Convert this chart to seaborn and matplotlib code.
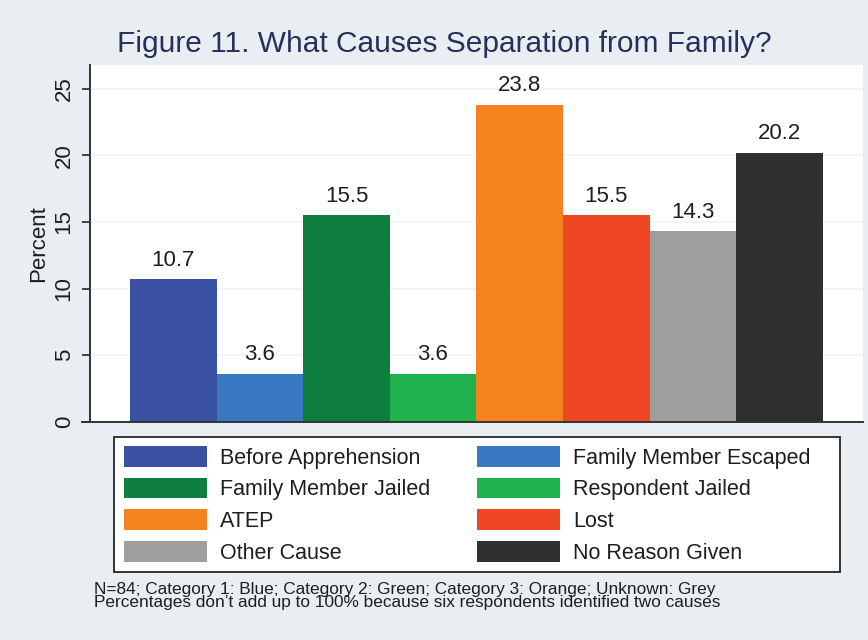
"""
Figure 11 - what causes separation from family, as a seaborn bar chart.
"""

import matplotlib
matplotlib.use("Agg")
import matplotlib.pyplot as plt
import matplotlib.patches as mpatches
import seaborn as sns

# ── Data ──────────────────────────────────────────────────────────────────────
causes = [
    "Before Apprehension",
    "Family Member Escaped",
    "Family Member Jailed",
    "Respondent Jailed",
    "ATEP",
    "Lost",
    "Other Cause",
    "No Reason Given",
]
percent = [10.7, 3.6, 15.5, 3.6, 23.8, 15.5, 14.3, 20.2]
bar_colors = [
    "#3a50a2", "#3b78c2", "#0e7f3f", "#20b24c",
    "#f5821f", "#ef4623", "#a09e9e", "#2f2f2f",
]
y_ticks = [0, 5, 10, 15, 20, 25]

title = "Figure 11. What Causes Separation from Family?"
note_lines = [
    "N=84; Category 1: Blue; Category 2: Green; Category 3: Orange; Unknown: Grey",
    "Percentages don\u2019t add up to 100% because six respondents identified two causes",
]

BG = "#e8eef2"
INK = "#1e1e1e"

sns.set_theme(style="white")
plt.rcParams["font.family"] = ["Liberation Sans", "DejaVu Sans"]

fig = plt.figure(figsize=(8.68, 6.4), dpi=100, facecolor=BG)
ax = fig.add_axes([90 / 868, 1 - 421.7 / 640, (862.5 - 90) / 868, (421.7 - 65) / 640])
ax.set_facecolor("white")

# ── Bars ──────────────────────────────────────────────────────────────────────
sns.barplot(
    x=causes, y=percent, hue=causes, palette=bar_colors, order=causes,
    hue_order=causes, width=1.0, saturation=1, legend=False, ax=ax,
    linewidth=0, zorder=2,
)
for cont in ax.containers:
    ax.bar_label(cont, fmt="%.1f", padding=6, fontsize=16, color=INK)

ax.set_xlim(-0.962, 7.96)
ax.set_ylim(0, 26.78)
ax.set_xticks([])
ax.set_xlabel("")
ax.set_yticks(y_ticks)
ax.set_yticklabels([str(t) for t in y_ticks], rotation=90, va="center",
                   fontsize=16, color=INK)
ax.tick_params(axis="y", direction="out", length=6, width=1.3,
               color="#333333", pad=5, left=True)
ax.set_ylabel("Percent", fontsize=16, color=INK, labelpad=3)
ax.grid(axis="y", color="#f0f2f4", linewidth=1.2, zorder=0)
ax.set_axisbelow(True)

for side in ("top", "right"):
    ax.spines[side].set_visible(False)
for side in ("left", "bottom"):
    ax.spines[side].set_color("#333333")
    ax.spines[side].set_linewidth(1.4)
ax.spines["bottom"].set_bounds(-0.962 - 8 / 86.6, 7.96)
ax.spines["bottom"].set_clip_on(False)

# ── Legend (row-wise order, Stata style box) ──────────────────────────────────
handles = [mpatches.Patch(facecolor=c, edgecolor="none", label=lab)
           for lab, c in zip(causes, bar_colors)]
ncol = 2
nrow = len(handles) // ncol
handles = [handles[r * ncol + c] for c in range(ncol) for r in range(nrow)]

box = mpatches.Rectangle(
    (114 / 868, 1 - 572 / 640), (840 - 114) / 868, (572 - 437) / 640,
    transform=fig.transFigure, facecolor="white", edgecolor="#333333",
    linewidth=1.4, zorder=1,
)
fig.patches.append(box)

leg = fig.legend(
    handles=handles, ncol=ncol, loc="upper left",
    bbox_to_anchor=(124 / 868, 1 - 446 / 640),
    borderaxespad=0, borderpad=0, fontsize=15.5, frameon=False,
    handlelength=3.85, handleheight=1.1, handletextpad=0.6,
    labelspacing=0.42, columnspacing=2.2,
)
leg.set_zorder(3)
for txt in leg.get_texts():
    txt.set_color(INK)

# ── Title and notes ───────────────────────────────────────────────────────────
fig.text(444 / 868, 1 - 52 / 640, title, ha="center", va="baseline",
         fontsize=21.5, color="#27305c")
# va="baseline" on a two-line text pins the last line's baseline
fig.text(94 / 868, 1 - 607.5 / 640, "\n".join(note_lines), ha="left",
         va="baseline", fontsize=12.4, color=INK, linespacing=0.85)

fig.savefig("out.png", dpi=100, facecolor=BG)
